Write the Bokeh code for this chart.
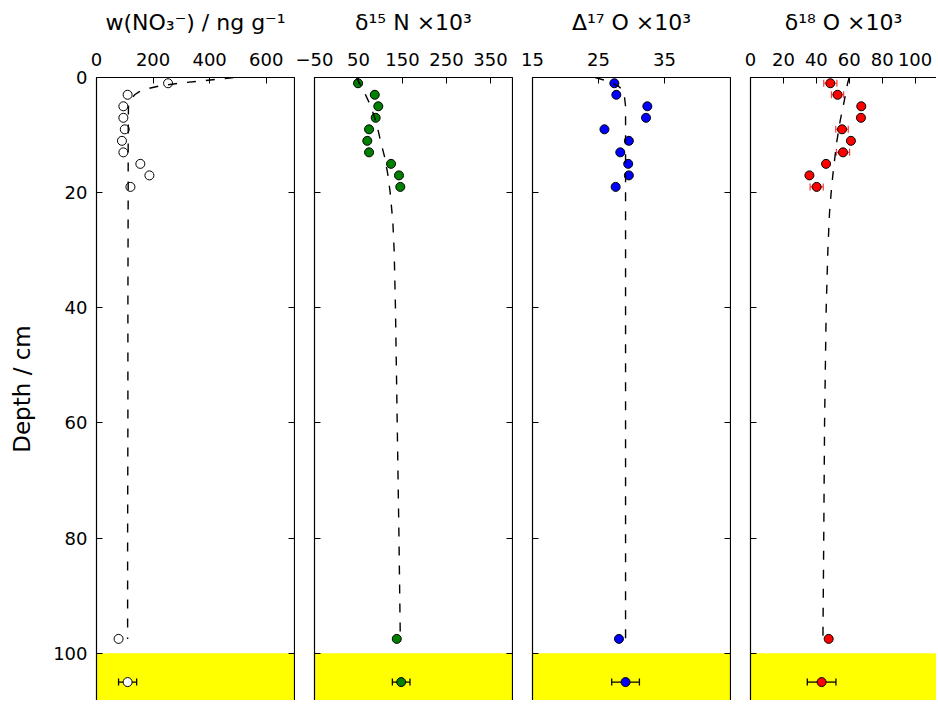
from bokeh.plotting import figure
from bokeh.layouts import row
from bokeh.models import Range1d, LinearAxis, FixedTicker, BoxAnnotation
from bokeh.embed import file_html
from bokeh.resources import INLINE

FONT = "DejaVu Sans"

# ---------------- data ----------------
sample_depth = [1, 3, 5, 7, 9, 11, 13, 15, 17, 19, 97.5]
no3 = [253, 110, 95, 95, 100, 90, 95, 155, 187, 120, 78]
d15n = [49, 87, 95, 89, 74, 70, 74, 124, 142, 145, 137]
d17o = [27.4, 27.7, 32.4, 32.2, 25.9, 29.6, 28.3, 29.5, 29.6, 27.6, 28.1]
d18o = [48.5, 52.9, 67.3, 67.1, 55.6, 61.0, 56.2, 45.9, 35.8, 40.2, 47.5]

# samples of d18O that carry an error bar
d18o_err_depth = [1, 3, 9, 13, 19]
d18o_err = [4.0, 3.7, 3.8, 4.0, 4.0]

# sample below the snow (ice) with error bars
base_depth = [105]
no3_base, no3_base_err = [110], [32]
d15n_base, d15n_base_err = [147], [20]
d17o_base, d17o_base_err = [29.1], [2.1]
d18o_base, d18o_base_err = [43.2], [8.7]

# model curves (dashed)
m_no3_depth = [0, 0.3, 0.6, 1, 1.5, 2, 2.5, 3, 4, 5, 10, 20, 40, 60, 80, 97.5]
m_no3 = [485, 430, 370, 290, 220, 175, 150, 135, 118, 113, 112, 112, 111, 111, 110, 110]
m_d15n_depth = [0, 2, 5, 8, 11, 14, 17, 20, 25, 30, 40, 60, 80, 97.5]
m_d15n = [45, 60, 78, 91, 100, 110, 117, 122, 128, 131, 134, 138, 142, 145]
m_d17o_depth = [0, 0.5, 1, 1.5, 2, 3, 5, 10, 20, 40, 60, 80, 97.5]
m_d17o = [24.5, 26.0, 27.2, 28.0, 28.5, 28.9, 29.1, 29.1, 29.1, 29.1, 29.1, 29.1, 29.1]
m_d18o_depth = [0, 1, 4, 7.5, 11, 14.5, 17, 20, 23.5, 30, 40, 60, 80, 97.5]
m_d18o = [60, 59, 57, 54.5, 52.5, 51, 50, 49, 48, 47, 46, 45, 44.5, 44]

ice_top = 100
depth_ticks = [0, 20, 40, 60, 80, 100]

titles = ["w(NO\u2083\u207b) / ng g\u207b\u00b9", "\u03b4\u00b9\u2075 N \u00d710\u00b3",
          "\u0394\u00b9\u2077 O \u00d710\u00b3", "\u03b4\u00b9\u2078 O \u00d710\u00b3"]
xticks = [[0, 200, 400, 600], [-50, 50, 150, 250, 350], [15, 25, 35], [0, 20, 40, 60, 80, 100]]
xranges = [(0, 700), (-50, 400), (15, 45), (0, 113)]

YMAX = 108.2
FH = 623


def style_axis(ax, ticks, show_labels=True):
    ax.ticker = FixedTicker(ticks=ticks, minor_ticks=[])
    ax.major_tick_in = 6
    ax.major_tick_out = 0
    ax.minor_tick_in = 0
    ax.minor_tick_out = 0
    ax.axis_line_color = "black"
    ax.axis_line_width = 1.2
    ax.major_tick_line_color = "black"
    ax.major_tick_line_width = 1
    ax.major_label_text_font = FONT
    ax.major_label_text_color = "black"
    ax.axis_label_text_font = FONT
    ax.axis_label_text_font_style = "normal"
    ax.axis_label_text_color = "black"
    if show_labels:
        ax.major_label_text_font_size = "18px"
    else:
        ax.major_label_text_font_size = "0px"
        ax.major_label_standoff = 0
        ax.major_label_overrides = {t: "" for t in ticks}


def panel(i, first=False, last=False, fw=198):
    p = figure(frame_width=fw, frame_height=FH,
               x_range=Range1d(*xranges[i]), y_range=Range1d(YMAX, 0),
               x_axis_location="above", y_axis_location="left",
               output_backend="svg", toolbar_location=None,
               min_border_left=96 if first else 19,
               min_border_right=0 if last else 1,
               min_border_top=77, min_border_bottom=0,
               outline_line_color=None,
               background_fill_color="white", border_fill_color="white")
    p.grid.visible = False
    xa = p.xaxis[0]
    style_axis(xa, xticks[i])
    xa.axis_label = titles[i]
    xa.axis_label_text_font_size = "22px"
    xa.major_label_standoff = 12
    xa.axis_label_standoff = 15
    ya = p.yaxis[0]
    style_axis(ya, depth_ticks, show_labels=first)
    if first:
        ya.axis_label = "Depth / cm"
        ya.axis_label_text_font_size = "23px"
        ya.major_label_standoff = 9
        ya.axis_label_standoff = 15
    if not last:
        ra = LinearAxis()
        style_axis(ra, depth_ticks, show_labels=False)
        p.add_layout(ra, "right")
    p.add_layout(BoxAnnotation(top=ice_top, bottom=YMAX, fill_color="#ffff00",
                               fill_alpha=1, line_color=None, level="underlay"))
    return p


def errbar(p, depth, val, err, color, width=1.3):
    lo = [v - e for v, e in zip(val, err)]
    hi = [v + e for v, e in zip(val, err)]
    p.segment(x0=lo, x1=hi, y0=depth, y1=depth, line_color=color, line_width=width)
    p.scatter(x=lo, y=depth, marker="dash", angle=1.5708, size=7,
              line_color=color, line_width=width)
    p.scatter(x=hi, y=depth, marker="dash", angle=1.5708, size=7,
              line_color=color, line_width=width)


def dots(p, depth, val, fill):
    p.scatter(x=val, y=depth, size=9, fill_color=fill, line_color="black", line_width=1)


def model(p, depth, val):
    p.line(x=val, y=depth, line_color="black", line_width=1.4, line_dash="9 10")


p1 = panel(0, first=True)
errbar(p1, base_depth, no3_base, no3_base_err, "black")
dots(p1, sample_depth, no3, "white")
dots(p1, base_depth, no3_base, "white")
model(p1, m_no3_depth, m_no3)

p2 = panel(1)
errbar(p2, base_depth, d15n_base, d15n_base_err, "black")
dots(p2, sample_depth, d15n, "#008000")
dots(p2, base_depth, d15n_base, "#008000")
model(p2, m_d15n_depth, m_d15n)

p3 = panel(2)
errbar(p3, base_depth, d17o_base, d17o_base_err, "black")
dots(p3, sample_depth, d17o, "#0000ff")
dots(p3, base_depth, d17o_base, "#0000ff")
model(p3, m_d17o_depth, m_d17o)

p4 = panel(3, last=True, fw=186)
lookup = dict(zip(sample_depth, d18o))
errbar(p4, d18o_err_depth, [lookup[d] for d in d18o_err_depth], d18o_err, "#ff3a3a", width=1.2)
errbar(p4, base_depth, d18o_base, d18o_base_err, "black")
dots(p4, sample_depth, d18o, "#ff0000")
dots(p4, base_depth, d18o_base, "#ff0000")
model(p4, m_d18o_depth, m_d18o)

layout = row(p1, p2, p3, p4, spacing=0)
open("out.html", "w").write(file_html(layout, INLINE))
